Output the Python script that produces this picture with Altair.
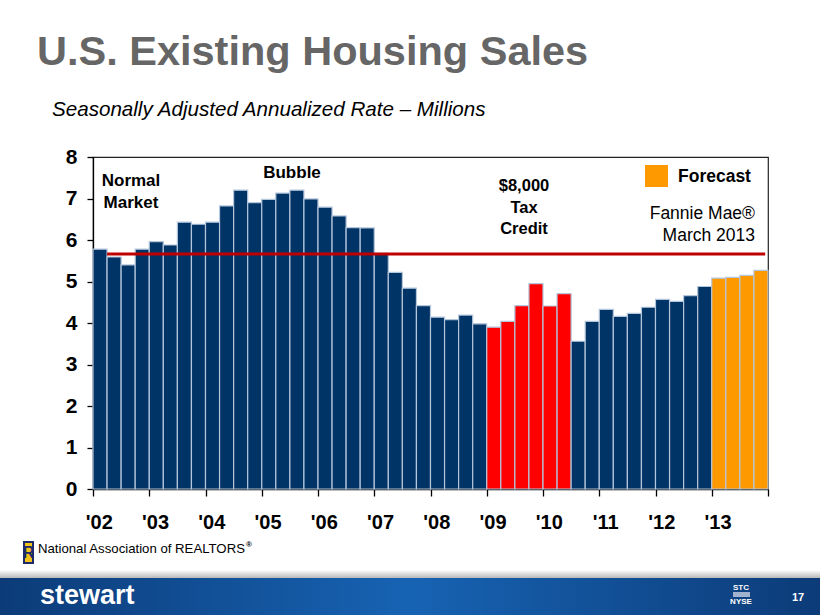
import altair as alt
import pandas as pd

# ---------------- data ----------------
quarters = [f"{y} Q{q}" for y in range(2002, 2014) for q in range(1, 5)]
sales = [5.78, 5.59, 5.40, 5.78, 5.96, 5.88, 6.43, 6.38, 6.43, 6.82, 7.20, 6.90,
         6.98, 7.13, 7.20, 6.99, 6.79, 6.58, 6.30, 6.29, 5.68, 5.22, 4.84, 4.42,
         4.14, 4.08, 4.19, 3.98, 3.90, 4.04, 4.42, 4.95, 4.41, 4.71, 3.56, 4.04,
         4.33, 4.16, 4.23, 4.38, 4.57, 4.52, 4.66, 4.88, 5.08, 5.10, 5.15, 5.27]
kinds = (["actual"] * 28 + ["credit"] * 6 + ["actual"] * 10 + ["forecast"] * 4)
year_labels = ["'02", "'03", "'04", "'05", "'06", "'07", "'08", "'09", "'10", "'11", "'12", "'13"]
normal_level = 5.66

bars = pd.DataFrame({
    "quarter": quarters,
    "start": list(range(len(sales))),
    "end": [i + 1 for i in range(len(sales))],
    "sales": sales,
    "kind": kinds,
})
years = pd.DataFrame({"label": year_labels, "pos": [4 * k + 0.45 for k in range(len(year_labels))]})
level = pd.DataFrame({"a": [1.0], "b": [47.8], "v": [normal_level]})

W, H = 675, 332
OX, OY = 93, 157
FONT = "Liberation Sans"

xscale = alt.Scale(domain=[0, 48], nice=False, zero=False)
yscale = alt.Scale(domain=[0, 8], nice=False)

bar_layer = alt.Chart(bars).mark_rect(stroke="#b4c6dc", strokeWidth=1.2).encode(
    x=alt.X("start:Q", scale=xscale,
            axis=alt.Axis(values=list(range(0, 49, 4)), labels=False, tickSize=7,
                          grid=False, title=None, domainColor="black", tickColor="black",
                          domainWidth=1.3, tickWidth=1.3)),
    x2="end:Q",
    y=alt.Y("sales:Q", scale=yscale,
            axis=alt.Axis(values=list(range(9)), tickSize=6, labelPadding=10, grid=False,
                          title=None, domainColor="black", tickColor="black",
                          labelFont=FONT, labelFontSize=21, labelFontWeight="bold",
                          labelColor="black", domainWidth=1.3, tickWidth=1.3)),
    y2=alt.datum(0),
    color=alt.Color("kind:N", legend=None,
                    scale=alt.Scale(domain=["actual", "credit", "forecast"],
                                    range=["#003366", "#ff0000", "#ff9900"])),
)

level_layer = alt.Chart(level).mark_rule(color="#c00000", strokeWidth=3).encode(
    x=alt.X("a:Q", scale=xscale), x2="b:Q", y=alt.Y("v:Q", scale=yscale))

xlab_layer = alt.Chart(years).mark_text(font=FONT, fontSize=20, fontWeight="bold",
                                        color="black", baseline="middle", align="center").encode(
    x=alt.X("pos:Q", scale=xscale), y=alt.value(H + 34), text="label:N")


def txt(s, x, y, size, weight="bold", color="black", align="left", style="normal",
        baseline="middle", line_height=None, font=FONT):
    kw = dict(text=s, font=font, fontSize=size, fontWeight=weight, color=color,
              align=align, fontStyle=style, baseline=baseline)
    if line_height is not None:
        kw["lineHeight"] = line_height
    return alt.Chart(alt.Data(values=[{}])).mark_text(**kw).encode(
        x=alt.value(x - OX), y=alt.value(y - OY))


def box(x1, y1, x2, y2, color, **kw):
    return alt.Chart(alt.Data(values=[{}])).mark_rect(color=color, **kw).encode(
        x=alt.value(x1 - OX), x2=alt.value(x2 - OX), y=alt.value(y1 - OY), y2=alt.value(y2 - OY))


layers = [
    bar_layer,
    level_layer,
    xlab_layer,
    # headings
    txt("U.S. Existing Housing Sales", 37, 65, 41.5, color="#666666", baseline="alphabetic"),
    txt("Seasonally Adjusted Annualized Rate \u2013 Millions", 52, 116, 20.6, weight="normal",
        style="italic", baseline="alphabetic"),
    # annotations
    txt(["Normal", "Market"], 131, 181, 17, align="center", line_height=22),
    txt("Bubble", 292, 173, 17, align="center"),
    txt(["$8,000", "Tax", "Credit"], 524, 186, 16.5, align="center", line_height=21.5),
    box(645, 165, 668, 187, "#ff9900"),
    txt("Forecast", 678, 177, 17.5),
    txt(["Fannie Mae\u00ae", "March 2013"], 755, 214, 17.5, weight="normal", align="right",
        line_height=22),
    # source
    box(23, 541, 34, 564, "#1f2a6b"),
    box(25, 543, 32, 562, "#f2c21b"),
    txt("R", 28.5, 553, 16, color="#1f2a6b", align="center"),
    txt("National Association of REALTORS", 38, 549, 13.2, weight="normal"),
    txt("\u00ae", 246, 545, 8, weight="bold"),
    # footer band
    alt.Chart(alt.Data(values=[{}])).mark_rect(
        color=alt.Gradient(gradient="linear", x1=0, x2=0, y1=0, y2=1,
                           stops=[alt.GradientStop(color="#ffffff", offset=0),
                                  alt.GradientStop(color="#b9b9b9", offset=1)])).encode(
        x=alt.value(-OX), x2=alt.value(820 - OX), y=alt.value(570 - OY), y2=alt.value(578 - OY)),
    alt.Chart(alt.Data(values=[{}])).mark_rect(
        color=alt.Gradient(gradient="linear", x1=0, x2=1, y1=0, y2=0,
                           stops=[alt.GradientStop(color="#0c3b78", offset=0),
                                  alt.GradientStop(color="#1763b3", offset=0.5),
                                  alt.GradientStop(color="#0c3b78", offset=1)])).encode(
        x=alt.value(-OX), x2=alt.value(820 - OX), y=alt.value(578 - OY), y2=alt.value(615 - OY)),
    txt("stewart", 40, 604, 27, color="white", baseline="alphabetic"),
    txt("STC", 741, 588, 8, color="white", align="center"),
    box(733, 592, 750, 597, "#9fb3cf"),
    txt("NYSE", 741, 602, 8, color="white", align="center"),
    txt("17", 798, 598, 11, color="white", align="center"),
]

chart = alt.layer(*layers).properties(
    width=W, height=H,
    autosize=alt.AutoSizeParams(type="none"),
    padding={"left": OX, "top": OY, "right": 820 - OX - W, "bottom": 615 - OY - H},
    background="white",
).configure_view(stroke="#222222", strokeWidth=1.2)

chart.save("out.html", embed_options={"renderer": "svg", "actions": False})
